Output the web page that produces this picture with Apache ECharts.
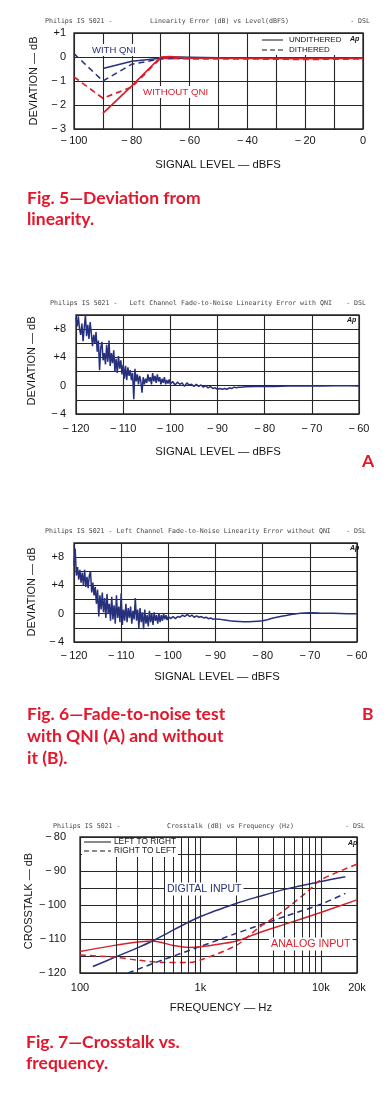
<!DOCTYPE html>
<html><head><meta charset="utf-8">
<script src="https://cdn.jsdelivr.net/npm/echarts@6/dist/echarts.min.js"></script>
<style>html,body{margin:0;padding:0;background:#fff;}#c{width:386px;height:1096px;}</style>
</head><body><div id="c"></div>
<script>
// ---------- Fig. 5 : linearity ----------
const linXTicks = [-100, -80, -60, -40, -20, 0];
const linYTicks = [1, 0, -1, -2, -3];
const linWithQniUndithered = [[-90,-0.48],[-80,-0.18],[-70,-0.05],[-65,0.0],[-50,-0.03],[-30,-0.05],[-10,-0.03],[0,-0.05]];
const linWithQniDithered   = [[-100,0.14],[-90,-1.0],[-80,-0.3],[-70,-0.08],[-60,-0.05],[-40,-0.04],[-20,-0.05],[0,-0.03]];
const linNoQniUndithered   = [[-90,-2.35],[-80,-1.2],[-70,0.0],[-67,0.02],[-60,-0.05],[-40,-0.06],[-20,-0.07],[0,-0.06]];
const linNoQniDithered     = [[-100,-0.83],[-90,-1.72],[-80,-1.25],[-70,-0.05],[-60,-0.08],[-40,-0.08],[-20,-0.1],[0,-0.08]];

// ---------- Fig. 6A : fade-to-noise with QNI ----------
const fadeXTicks = [-120, -110, -100, -90, -80, -70, -60];
const fadeYTicks = [8, 4, 0, -4];
const fadeWithQni = [
[-120,9.6],[-119.75,8.4],[-119.5,9.8],[-119.25,8.0],[-119,7.2],[-118.75,8.8],[-118.5,6.3],[-118.25,8.2],
[-118,10.0],[-117.75,7.0],[-117.5,8.6],[-117.25,6.6],[-117,9.0],[-116.75,7.4],[-116.5,5.6],[-116.25,7.2],
[-116,6.0],[-115.75,7.6],[-115.5,4.8],[-115.25,6.4],[-115,2.2],[-114.75,5.4],[-114.5,6.2],[-114.25,3.6],
[-114,4.6],[-113.75,3.0],[-113.5,5.8],[-113.25,3.4],[-113,6.4],[-112.75,2.8],[-112.5,4.6],[-112.25,3.2],
[-112,5.0],[-111.75,2.0],[-111.5,3.8],[-111.25,1.8],[-111,4.2],[-110.75,2.4],[-110.5,3.6],[-110.25,1.6],
[-110,3.0],[-109.75,1.0],[-109.5,2.8],[-109.25,0.8],[-109,2.6],[-108.75,1.4],[-108.5,2.2],[-108.25,0.8],
[-108,1.8],[-107.75,-1.9],[-107.5,2.4],[-107.25,0.6],[-107,1.6],[-106.75,0.2],[-106.5,1.4],[-106.25,0.6],
[-106,-1.0],[-105.75,1.2],[-105.5,0.2],[-105.25,1.0],[-105,0.4],[-104.75,1.6],[-104.5,0.6],[-104.25,1.2],
[-104,0.2],[-103.75,1.8],[-103.5,0.6],[-103.25,1.4],[-103,0.4],[-102.75,1.6],[-102.5,0.6],[-102.25,1.2],
[-102,0.2],[-101.75,1.0],[-101.5,0.4],[-101.25,1.2],[-101,0.2],[-100.75,0.8],[-100.5,0.3],[-100.25,0.9],
[-100,0.2],[-99.5,0.6],[-99,0.1],[-98.5,0.5],[-98,0.2],[-97.5,0.4],[-97,-0.1],[-96.5,0.4],[-96,0.1],
[-95.5,0.2],[-95,-0.1],[-94.5,0.2],[-94,-0.1],[-93.5,0.1],[-93,-0.2],[-92.5,0.0],[-92,-0.3],[-91.5,-0.1],
[-91,-0.4],[-90.5,-0.3],[-90,-0.5],[-89.5,-0.4],[-89,-0.5],[-88.5,-0.4],[-88,-0.5],[-87.5,-0.3],[-87,-0.4],
[-86.5,-0.2],[-86,-0.3],[-85.5,-0.2],[-85,-0.2],[-84,-0.15],[-82,-0.1],[-80,-0.1],[-78,-0.1],[-75,-0.05],
[-72,-0.05],[-70,0.0],[-68,-0.05],[-65,0.0],[-62,0.0],[-60,-0.05]];

// ---------- Fig. 6B : fade-to-noise without QNI ----------
const fadeWithoutQni = [
[-120,6.8],[-119.75,9.2],[-119.5,5.4],[-119.25,6.6],[-119,4.8],[-118.75,6.2],[-118.5,4.4],[-118.25,5.8],
[-118,4.0],[-117.75,6.2],[-117.5,3.8],[-117.25,5.2],[-117,3.6],[-116.75,5.4],[-116.5,6.0],[-116.25,3.0],
[-116,4.4],[-115.75,2.6],[-115.5,3.8],[-115.25,1.4],[-115,3.4],[-114.75,-0.4],[-114.5,2.6],[-114.25,0.6],
[-114,3.0],[-113.75,0.2],[-113.5,2.2],[-113.25,-0.6],[-113,2.8],[-112.75,0.0],[-112.5,1.4],[-112.25,-1.0],
[-112,2.4],[-111.75,-0.8],[-111.5,1.2],[-111.25,-1.4],[-111,2.6],[-110.75,-0.6],[-110.5,1.0],[-110.25,-1.2],
[-110,2.9],[-109.75,-1.6],[-109.5,0.6],[-109.25,-1.0],[-109,1.4],[-108.75,-1.2],[-108.5,0.8],[-108.25,-0.6],
[-108,1.0],[-107.75,-1.4],[-107.5,0.4],[-107.25,-0.8],[-107,2.2],[-106.75,-1.0],[-106.5,0.6],[-106.25,-2.0],
[-106,0.8],[-105.75,-1.2],[-105.5,0.2],[-105.25,-2.2],[-105,0.6],[-104.75,-1.4],[-104.5,-0.2],[-104.25,-1.8],
[-104,0.4],[-103.75,-1.2],[-103.5,0.0],[-103.25,-1.6],[-103,0.2],[-102.75,-1.0],[-102.5,-0.2],[-102.25,-1.4],
[-102,0.0],[-101.75,-1.2],[-101.5,-0.2],[-101.25,-1.0],[-101,0.0],[-100.75,-0.8],[-100.5,-0.2],[-100.25,-0.9],
[-100,-0.4],[-99.5,-0.7],[-99,-0.4],[-98.5,-0.7],[-98,-0.4],[-97.5,-0.5],[-97,-0.2],[-96.5,-0.4],[-96,-0.1],
[-95.5,-0.4],[-95,-0.2],[-94.5,-0.5],[-94,-0.3],[-93.5,-0.5],[-93,-0.4],[-92.5,-0.6],[-92,-0.5],[-91.5,-0.7],
[-91,-0.6],[-90.5,-0.8],[-90,-0.7],[-89.5,-0.8],[-89,-0.8],[-88,-0.9],[-87,-1.0],[-86,-1.05],[-85,-1.1],
[-84,-1.15],[-83,-1.15],[-82,-1.1],[-81,-1.05],[-80,-1.0],[-79,-0.85],[-78,-0.65],[-77,-0.5],[-76,-0.35],
[-75,-0.25],[-74,-0.1],[-72,0.05],[-70,0.15],[-68,0.1],[-65,0.05],[-62,0.0],[-60,0.0]];

// ---------- Fig. 7 : crosstalk ----------
const xtalkFreqLabels = [100, 1000, 10000, 20000];
const xtalkMinorGrid = [200,300,400,500,600,700,800,900,2000,3000,4000,5000,6000,7000,8000,9000];
const xtalkYTicks = [-80, -90, -100, -110, -120];
const xtalkDigitalLR = [[128,-118.1],[200,-115.2],[300,-112.6],[400,-110.6],[600,-107.3],[1000,-103.4],[2000,-99.5],[3000,-97.6],[5000,-95.4],[10000,-93.1],[16000,-91.7]];
const xtalkDigitalRL = [[250,-120],[500,-116],[1000,-112.2],[2000,-108.3],[5000,-103.4],[10000,-99.8],[16000,-96.6]];
const xtalkAnalogLR  = [[100,-113.7],[200,-111.8],[400,-110.6],[600,-111.9],[800,-112.5],[1000,-112.3],[1500,-111.4],[2000,-110.6],[3000,-108.3],[5000,-105.7],[10000,-102.2],[20000,-98.5]];
const xtalkAnalogRL  = [[100,-114.7],[200,-115.4],[300,-116.2],[500,-116.9],[800,-116.9],[1000,-116.2],[2000,-111.8],[3000,-106.9],[5000,-101.5],[8000,-95.6],[10000,-92.6],[20000,-88]];

// ---------- styling ----------
const BLUE = '#27307c', RED = '#d9212c', CAP = '#e3162b', GRID = '#262626', INK = '#151515';
const LF = 'Liberation Sans';
const minus = v => (v < 0 ? '\u2212\u2009' + Math.abs(v) : String(v));
const signed = v => (v > 0 ? '+' + v : minus(v));

function gridDef(l, t, w, h) { return { left: l, top: t, width: w, height: h, show: true, borderColor: GRID, borderWidth: 1.3, backgroundColor: 'transparent', containLabel: false }; }
function valAxis(idx, min, max, interval, labelTicks, fmt, margin) {
  return {
    type: 'value', gridIndex: idx, min: min, max: max, interval: interval,
    axisLine: { show: false }, axisTick: { show: false },
    splitLine: { show: true, lineStyle: { color: GRID, width: 1.1 } },
    axisLabel: { show: true, margin: margin, color: INK, fontFamily: LF, fontSize: 11,
      formatter: v => (labelTicks.indexOf(v) >= 0 ? fmt(v) : '') }
  };
}
function line(xi, yi, data, color, dashed, width, smooth) {
  return { type: 'line', xAxisIndex: xi, yAxisIndex: yi, data: data, showSymbol: false, smooth: smooth || false,
    lineStyle: { color: color, width: width || 1.4, type: dashed ? [6, 4] : 'solid' }, silent: true, z: 3 };
}

const graphics = [];
function R(x, y, w, h) {
  graphics.push({ type: 'rect', z: 9, shape: { x: x, y: y, width: w, height: h }, style: { fill: '#fff' } });
}
function T(x, y, text, o) {
  o = o || {};
  graphics.push({ type: 'text', x: x, y: y, rotation: o.rot || 0, z: 10,
    style: { text: text, fill: o.color || INK, font: (o.weight || 'normal') + ' ' + (o.size || 10) + 'px ' + (o.family || LF),
      textAlign: o.align || 'left', textVerticalAlign: 'middle', backgroundColor: o.bg, padding: o.pad } });
}
function L(x1, y1, x2, y2, dashed) {
  graphics.push({ type: 'line', z: 10, shape: { x1: x1, y1: y1, x2: x2, y2: y2 },
    style: { stroke: INK, lineWidth: 1, lineDash: dashed ? [5, 3] : null } });
}
const HF = 'DejaVu Sans Mono';
function header(y, parts) { parts.forEach(p => T(p[0], y, p[1], { size: 6.6, family: HF, color: '#444', align: p[2] || 'left' })); }

// headers
header(21, [[45, 'Philips IS 5021 -'], [150, 'Linearity Error (dB) vs Level(dBFS)'], [370, '- DSL', 'right']]);
header(303, [[50, 'Philips IS 5021 -   Left Channel Fade-to-Noise Linearity Error with QNI'], [366, '- DSL', 'right']]);
header(531, [[45, 'Philips IS 5021 - Left Channel Fade-to-Noise Linearity Error without QNI'], [366, '- DSL', 'right']]);
header(826, [[53, 'Philips IS 5021 -'], [167, 'Crosstalk (dB) vs Frequency (Hz)'], [365, '- DSL', 'right']]);

// axis names
const nameOpt = { size: 11.3, align: 'center' };
T(218, 165, 'SIGNAL LEVEL \u2014 dBFS', nameOpt);
T(218, 452, 'SIGNAL LEVEL \u2014 dBFS', nameOpt);
T(217, 677, 'SIGNAL LEVEL \u2014 dBFS', nameOpt);
T(221, 1008, 'FREQUENCY \u2014 Hz', nameOpt);
const ynOpt = { size: 11, align: 'center', rot: Math.PI / 2 };
T(34, 81, 'DEVIATION \u2014 dB', ynOpt);
T(32, 361, 'DEVIATION \u2014 dB', ynOpt);
T(32, 592, 'DEVIATION \u2014 dB', ynOpt);
T(29, 901, 'CROSSTALK \u2014 dB', ynOpt);

// "Ap" marks
[[350, 39], [347, 320], [350, 548], [348, 843]].forEach(p => T(p[0], p[1], 'Ap', { size: 7, weight: 'italic bold' }));

// Fig 5 legend / notes
R(258, 34, 88, 21);
L(262, 40, 283, 40, false); T(289, 40, 'UNDITHERED', { size: 8 });
L(262, 50, 283, 50, true);  T(289, 50, 'DITHERED', { size: 8 });
T(91, 50, 'WITH QNI', { size: 9.5, color: BLUE, bg: '#fff', pad: [1, 1] });
T(142, 92, 'WITHOUT QNI', { size: 9.7, color: RED, bg: '#fff', pad: [1, 1] });

// Fig 7 legend / notes
R(82, 838, 96, 19);
L(84, 842, 111, 842, false); T(114, 842, 'LEFT TO RIGHT', { size: 8.3 });
L(84, 851, 111, 851, true);  T(114, 851, 'RIGHT TO LEFT', { size: 8.3 });
T(165, 889, 'DIGITAL INPUT', { size: 10.5, color: BLUE, bg: '#fff', pad: [1, 2] });
T(269, 944, 'ANALOG INPUT', { size: 10.7, color: RED, bg: '#fff', pad: [1, 2] });

// captions
const capOpt = { size: 17.5, weight: 'bold', color: CAP, family: 'Lato' };
T(27, 198, 'Fig. 5\u2014Deviation from', capOpt);
T(27, 219, 'linearity.', capOpt);
T(362, 461, 'A', capOpt);
T(27, 714, 'Fig. 6\u2014Fade-to-noise test', capOpt);
T(27, 736, 'with QNI (A) and without', capOpt);
T(27, 758, 'it (B).', capOpt);
T(362, 714, 'B', capOpt);
T(26, 1042, 'Fig. 7\u2014Crosstalk vs.', capOpt);
T(26, 1063, 'frequency.', capOpt);

const option = {
  animation: false,
  backgroundColor: '#ffffff',
  grid: [gridDef(74, 33, 289, 96), gridDef(76, 315, 283, 99), gridDef(74, 543, 283, 99), gridDef(80, 837, 277, 136)],
  xAxis: [
    valAxis(0, -100, 0, 10, linXTicks, minus, 6),
    valAxis(1, -120, -60, 10, fadeXTicks, minus, 9),
    valAxis(2, -120, -60, 10, fadeXTicks, minus, 8),
    { type: 'log', logBase: 10, gridIndex: 3, min: 100, max: 20000,
      axisLine: { show: false }, axisTick: { show: false },
      splitLine: { show: true, lineStyle: { color: GRID, width: 1.1 } },
      axisLabel: { show: true, margin: 9, color: INK, fontFamily: LF, fontSize: 11, customValues: xtalkFreqLabels,
        formatter: v => (v >= 1000 ? (v / 1000) + 'k' : String(v)) } }
  ],
  yAxis: [
    valAxis(0, -3, 1, 1, linYTicks, signed, 8),
    valAxis(1, -4, 10, 2, fadeYTicks, signed, 10),
    valAxis(2, -4, 10, 2, fadeYTicks, signed, 10),
    valAxis(3, -120, -80, 5, xtalkYTicks, minus, 14)
  ],
  series: [
    line(0, 0, linWithQniUndithered, BLUE, false, 1.5),
    line(0, 0, linWithQniDithered, BLUE, true, 1.5),
    line(0, 0, linNoQniUndithered, RED, false, 1.7),
    line(0, 0, linNoQniDithered, RED, true, 1.7),
    line(1, 1, fadeWithQni, BLUE, false, 1.5),
    line(2, 2, fadeWithoutQni, BLUE, false, 1.5),
    Object.assign(line(3, 3, xtalkDigitalLR, BLUE, false, 1.5, 0.3), {
      markLine: { silent: true, symbol: ['none', 'none'], label: { show: false },
        lineStyle: { color: GRID, width: 1, type: 'solid' }, emphasis: { disabled: true },
        data: xtalkMinorGrid.map(f => ({ xAxis: f })) } }),
    line(3, 3, xtalkDigitalRL, BLUE, true, 1.5, 0.3),
    line(3, 3, xtalkAnalogLR, RED, false, 1.5, 0.3),
    line(3, 3, xtalkAnalogRL, RED, true, 1.5, 0.3)
  ],
  graphic: graphics
};
const chart = echarts.init(document.getElementById('c'), null, { renderer: 'canvas' });
chart.setOption(option);
</script></body></html>
